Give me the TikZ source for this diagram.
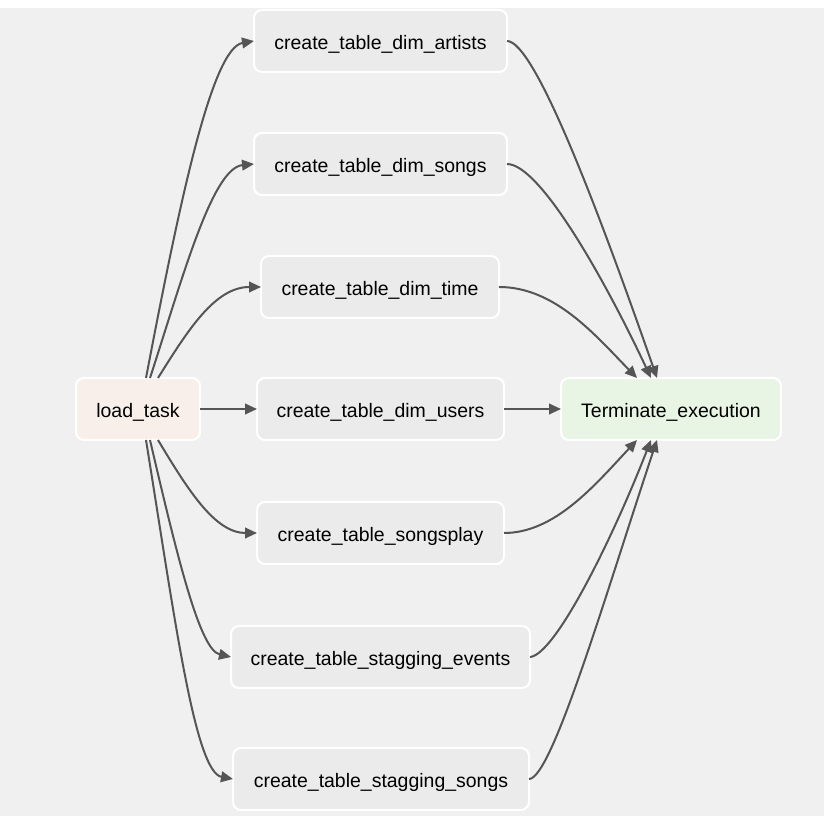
\documentclass[tikz,border=0pt]{standalone}
\usepackage{fontspec}
\setmainfont{Liberation Sans}
\usetikzlibrary{arrows.meta}
\definecolor{bgc}{HTML}{F0F0F0}
\definecolor{taskc}{HTML}{EBEBEB}
\definecolor{loadc}{HTML}{F9EFEA}
\definecolor{termc}{HTML}{E8F5E4}
\definecolor{edgec}{HTML}{555555}
\begin{document}
\begin{tikzpicture}[x=0.75pt,y=-0.75pt,
  box/.style={draw=white, line width=1.5pt, rounded corners=6pt,
    minimum height=46.5pt, inner sep=0pt, outer sep=0pt,
    text height=13.5pt, text depth=0pt,
    font=\fontsize{14.6}{17}\selectfont, text=black, fill=taskc},
  bw/.style={minimum width={#1*0.75pt}},
  edge/.style={draw=edgec, line width=1.5pt, -{Triangle[length=9pt,width=8pt]}}]
\useasboundingbox (0,0) rectangle (826,816);
\fill[white] (0,0) rectangle (826,816);
\fill[bgc] (0,8) rectangle (824,816);

\node[box, bw=124, fill=loadc] (load) at (138,409) {load\_task};
\node[box, bw=220, fill=termc] (term) at (671,409) {Terminate\_execution};
\node[box, bw=253] (a1) at (380.5,41) {create\_table\_dim\_artists};
\node[box, bw=253] (a2) at (380.5,164) {create\_table\_dim\_songs};
\node[box, bw=238] (a3) at (380,287) {create\_table\_dim\_time};
\node[box, bw=247] (a4) at (380.5,409) {create\_table\_dim\_users};
\node[box, bw=247] (a5) at (380.5,533) {create\_table\_songsplay};
\node[box, bw=299] (a6) at (380.5,657) {create\_table\_stagging\_events};
\node[box, bw=296] (a7) at (381,779) {create\_table\_stagging\_songs};

% load_task -> tasks
\draw[edge] ([shift={(8,0)}]load.north) .. controls (180,200) and (212,48) .. (a1.west);
\draw[edge] ([shift={(12,0)}]load.north) .. controls (182,280) and (212,168) .. (a2.west);
\draw[edge] ([shift={(20,0)}]load.north) .. controls (188,330) and (215,287) .. (a3.west);
\draw[edge] (load.east) -- (a4.west);
\draw[edge] ([shift={(20,0)}]load.south) .. controls (188,490) and (215,533) .. (a5.west);
\draw[edge] ([shift={(12,0)}]load.south) .. controls (178,560) and (200,650) .. (a6.west);
\draw[edge] ([shift={(8,0)}]load.south) .. controls (175,620) and (195,772) .. (a7.west);

% tasks -> Terminate_execution
\draw[edge] (a1.east) .. controls (535,41) and (600,215) .. ([shift={(-14,0)}]term.north);
\draw[edge] (a2.east) .. controls (540,164) and (605,280) .. ([shift={(-20,0)}]term.north);
\draw[edge] (a3.east) .. controls (555,287) and (595,335) .. ([shift={(-34,0)}]term.north);
\draw[edge] (a4.east) -- (term.west);
\draw[edge] (a5.east) .. controls (555,533) and (595,485) .. ([shift={(-34,0)}]term.south);
\draw[edge] (a6.east) .. controls (555,655) and (612,540) .. ([shift={(-20,0)}]term.south);
\draw[edge] (a7.east) .. controls (552,779) and (607,590) .. ([shift={(-14,0)}]term.south);
\end{tikzpicture}
\end{document}
